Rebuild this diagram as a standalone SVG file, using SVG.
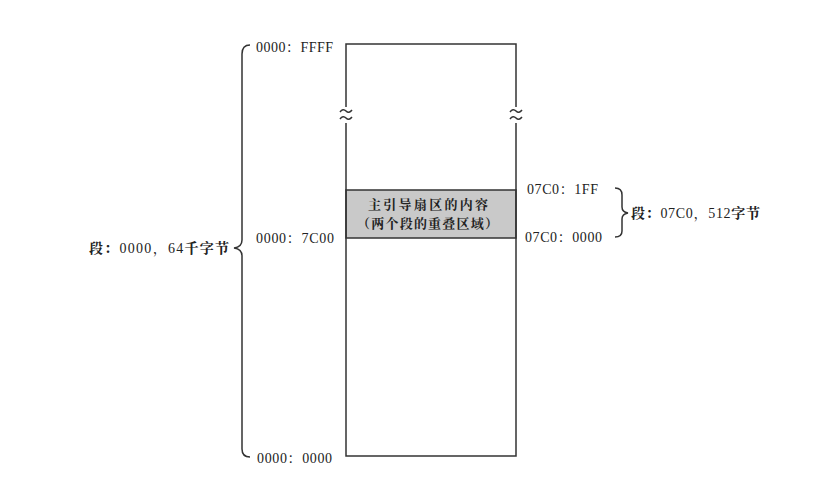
<svg xmlns="http://www.w3.org/2000/svg" width="837" height="479" viewBox="0 0 837 479">
<style>
.t{font-family:"Liberation Serif","Noto Serif CJK SC","Noto Sans CJK SC",serif;font-size:14px;fill:#222}
.b{font-weight:bold}
.n{font-weight:normal}
.ln{fill:none;stroke:#333;stroke-width:1.5}
</style>
<rect width="837" height="479" fill="#fff"/>
<g id="memory">
<rect x="346" y="190" width="170" height="48" fill="#c9c9c9" stroke="#333" stroke-width="1.5"/>
<path class="ln" d="M346,107 V44 H516 V107 M346,123 V456 H516 V123"/>
<path class="ln" d="M340,112 q3,-4 6,-1 t6,-1 M340,119 q3,-4 6,-1 t6,-1"/>
<path class="ln" d="M510,112 q3,-4 6,-1 t6,-1 M510,119 q3,-4 6,-1 t6,-1"/>
<text class="t b" x="368" y="209" textLength="120" lengthAdjust="spacing" style="font-size:13px">主引导扇区的内容</text>
<text class="t b" x="357" y="228" textLength="141" lengthAdjust="spacing" style="font-size:13px">（两个段的重叠区域）</text>
</g>
<g id="labels">
<text class="t" x="256" y="52" textLength="77" lengthAdjust="spacing">0000：FFFF</text>
<text class="t" x="256" y="243" textLength="78" lengthAdjust="spacing">0000：7C00</text>
<text class="t" x="257" y="463" textLength="75" lengthAdjust="spacing">0000：0000</text>
<text class="t" x="527" y="194" textLength="71" lengthAdjust="spacing">07C0：1FF</text>
<text class="t" x="525" y="242" textLength="77" lengthAdjust="spacing">07C0：0000</text>
</g>
<g id="brace-big">
<path class="ln" d="M250,45 Q242,45 242,54 V240 Q242,247 234,248 Q242,249 242,256 V449 Q242,457 250,457"/>
<text class="t b" x="89" y="253" textLength="140" lengthAdjust="spacing">段：<tspan class="n">0000，64</tspan>千字节</text>
</g>
<g id="brace-small">
<path class="ln" d="M615,188 Q622,188 622,195 V207 Q622,212 628,213 Q622,214 622,219 V231 Q622,237 615,237"/>
<text class="t b" x="631" y="218" textLength="129" lengthAdjust="spacing">段：<tspan class="n">07C0，512</tspan>字节</text>
</g>
</svg>
